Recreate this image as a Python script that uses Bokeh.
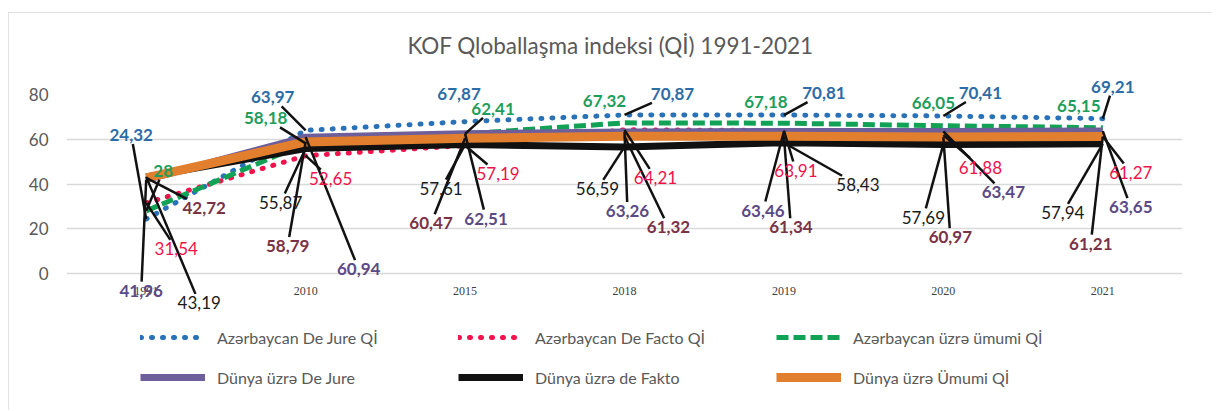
from bokeh.plotting import figure
from bokeh.models import Range1d, FixedTicker, Legend, LegendItem, ColumnDataSource
from bokeh.embed import file_html
from bokeh.resources import INLINE
from bokeh.core.properties import value

# ---------------- data ----------------
title_text = "KOF Qloballaşma indeksi (Qİ) 1991-2021"
years = ["1991", "2010", "2015", "2018", "2019", "2020", "2021"]
y_ticks = [0, 20, 40, 60, 80]

az_de_jure = [24.32, 63.97, 67.87, 70.87, 70.81, 70.41, 69.21]
az_de_facto = [31.54, 52.65, 57.19, 64.21, 63.91, 61.88, 61.27]
az_overall = [28.00, 58.18, 62.41, 67.32, 67.18, 66.05, 65.15]
world_de_jure = [41.96, 60.94, 62.51, 63.26, 63.46, 63.47, 63.65]
world_de_facto = [43.19, 55.87, 57.61, 56.59, 58.43, 57.69, 57.94]
world_overall = [42.72, 58.79, 60.47, 61.32, 61.34, 60.97, 61.21]

names = ["Azərbaycan De Jure Qİ", "Azərbaycan De Facto Qİ", "Azərbaycan üzrə ümumi Qİ",
         "Dünya üzrə De Jure", "Dünya üzrə de Fakto", "Dünya üzrə Ümumi Qİ"]

# ---------------- styles ----------------
FONT = "Lato"
GREY = "#595959"
line_styles = [
    dict(line_color="#2A72B8", line_width=5, line_dash="1 10", line_cap="round"),
    dict(line_color="#F2134C", line_width=5, line_dash="1 10", line_cap="round"),
    dict(line_color="#12A255", line_width=5, line_dash="12 5", line_cap="butt"),
    dict(line_color="#6E5E9A", line_width=7),
    dict(line_color="#111111", line_width=7),
    dict(line_color="#E27F2F", line_width=9),
]
label_colors = ["#2D6CA6", "#F0124B", "#1E9E5A", "#5B4A86", "#1A1A1A", "#7A3346"]
label_bold = [True, False, True, True, False, True]

# label offsets from each point, in screen pixels (dx right, dy down)
label_offsets = [
    [(-15, -84), (-33, -33), (-6, -28), (48, -21), (40, -22), (37, -23), (10, -32)],
    [(30, 46), (25, 23), (33, 28), (31, 48), (12, 40), (37, 32), (28, 36)],
    [(17, -40), (-40, -25), (28, -25), (-20, -22), (-18, -21), (-10, -23), (-24, -22)],
    [(-5, 111), (53, 132), (21, 85), (3, 79), (-21, 79), (60, 61), (28, 76)],
    [(53, 126), (-25, 54), (-24, 44), (-27, 42), (74, 42), (-20, 73), (-40, 69)],
    [(58, 30), (-18, 104), (-34, 85), (44, 91), (7, 91), (7, 100), (-12, 107)],
]
# title placement: pixel shift from the frame's horizontal centre, pixels above the top gridline
TITLE_DX, TITLE_DY = -14, 49

W, H = 1204, 398
ML, MR, MT, MB = 58, 30, 82, 6
FRAME_W = W - ML - MR
FRAME_H = H - MT - MB
X0, X1 = -0.5, 6.5
PX_X = FRAME_W / (X1 - X0)
PX_Y = 179 / 80.0          # pixels per unit for the 0..80 value band
Y1 = 80
Y0 = Y1 - FRAME_H / PX_Y   # frame extends below 0 to hold axis labels and legend

p = figure(width=W, height=H, x_range=Range1d(X0, X1), y_range=Range1d(Y0, Y1),
           output_backend="svg", toolbar_location=None,
           min_border_left=ML, min_border_right=MR, min_border_top=MT, min_border_bottom=MB)
p.styles = {"outline": "1px solid #d9d9d9", "outline-offset": "-1px",
            "margin-left": "8px", "margin-top": "12px"}
p.outline_line_color = None
p.background_fill_color = "white"
p.border_fill_color = "white"
p.title.text = ""

# axes
xs = list(range(len(years)))
p.xaxis.ticker = FixedTicker(ticks=xs)
p.xaxis.major_label_overrides = {i: years[i] for i in xs}
p.xaxis.major_label_text_font = "Liberation Serif"
p.xaxis.major_label_text_font_size = "12px"
p.xaxis.major_label_text_color = "#404040"
p.xaxis.major_label_standoff = 13
p.xaxis.fixed_location = 0
p.yaxis.ticker = FixedTicker(ticks=y_ticks)
p.yaxis.major_label_text_font = FONT
p.yaxis.major_label_text_font_size = "17px"
p.yaxis.major_label_text_color = GREY
p.yaxis.major_label_standoff = 18
for ax in (p.xaxis, p.yaxis):
    ax.axis_line_color = None
    ax.major_tick_line_color = None
    ax.minor_tick_line_color = None
    ax.major_tick_out = 0
    ax.major_tick_in = 0
p.xgrid.grid_line_color = None
p.ygrid.grid_line_color = "#D9D9D9"
p.ygrid.grid_line_width = 1.5

series = [az_de_jure, az_de_facto, az_overall, world_de_jure, world_de_facto, world_overall]

renderers = []
for vals, st in zip(series, line_styles):
    r = p.line(xs, vals, **st)
    renderers.append(r)


def fmt(v):
    return ("%g" % v).replace(".", ",")


# data labels with leader lines
lx0, ly0, lx1, ly1 = [], [], [], []
text_kws = []
for s, vals in enumerate(series):
    tx, ty, tt = [], [], []
    for i, v in enumerate(vals):
        dx, dy = label_offsets[s][i]
        txt = fmt(v)
        tx.append(i + dx / PX_X)
        ty.append(v - dy / PX_Y)
        tt.append(txt)
        hw = (9.6 * (len(txt) - 1) + 4) / 2 + 2
        hh = 9
        vx, vy = -dx, -dy
        t1 = hw / abs(vx) if vx else 1e9
        t2 = hh / abs(vy) if vy else 1e9
        t = min(t1, t2)
        dist = (dx * dx + dy * dy) ** 0.5 * (1 - t)
        if t < 1 and dist > 20:
            ex, ey = dx + vx * t, dy + vy * t
            lx0.append(i)
            ly0.append(v)
            lx1.append(i + ex / PX_X)
            ly1.append(v - ey / PX_Y)
    src = ColumnDataSource(dict(x=tx, y=ty, t=tt))
    text_kws.append(dict(x="x", y="y", text="t", source=src, text_font=value(FONT),
                         text_font_size="17px", text_color=label_colors[s],
                         text_font_style="bold" if label_bold[s] else "normal",
                         text_align="center", text_baseline="middle"))

p.segment(lx0, ly0, lx1, ly1, line_color="#111111", line_width=2.5, level="overlay")
for kw in text_kws:
    p.text(level="overlay", **kw)

# chart title, drawn above the top gridline
p.text(x=[(X0 + X1) / 2 + TITLE_DX / PX_X], y=[Y1 + TITLE_DY / PX_Y], text=[title_text],
       text_font=value(FONT), text_font_size="22.5px", text_color=GREY,
       text_align="center", text_baseline="middle", level="overlay")

legend = Legend(items=[LegendItem(label=n, renderers=[r]) for n, r in zip(names, renderers)],
                location=(74, 17), orientation="horizontal", ncols=3,
                glyph_width=65, glyph_height=20, label_height=20, label_width=221,
                label_standoff=12, spacing=20, padding=0, margin=0,
                label_text_font=FONT, label_text_font_size="16px", label_text_color=GREY,
                background_fill_alpha=0, border_line_alpha=0)
p.add_layout(legend, "center")

open("out.html", "w").write(file_html(p, INLINE))
